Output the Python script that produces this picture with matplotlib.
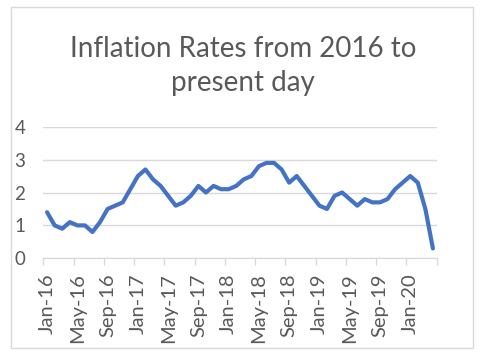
import matplotlib
matplotlib.use("Agg")
import matplotlib.pyplot as plt
from matplotlib.patches import Rectangle

# monthly inflation rate, Jan-16 .. Apr-20
months = ["Jan-16", "May-16", "Sep-16", "Jan-17", "May-17", "Sep-17", "Jan-18",
          "May-18", "Sep-18", "Jan-19", "May-19", "Sep-19", "Jan-20"]
rates = [1.4, 1.0, 0.9, 1.1, 1.0, 1.0, 0.8, 1.1, 1.5, 1.6, 1.7, 2.1,
         2.5, 2.7, 2.4, 2.2, 1.9, 1.6, 1.7, 1.9, 2.2, 2.0, 2.2, 2.1,
         2.1, 2.2, 2.4, 2.5, 2.8, 2.9, 2.9, 2.7, 2.3, 2.5, 2.2, 1.9,
         1.6, 1.5, 1.9, 2.0, 1.8, 1.6, 1.8, 1.7, 1.7, 1.8, 2.1, 2.3,
         2.5, 2.3, 1.5, 0.3]
yticks = [0, 1, 2, 3, 4]

plt.rcParams['font.family'] = ['Lato', 'DejaVu Sans']
txt = "#595959"
grid = "#D9D9D9"

fig = plt.figure(figsize=(4.84, 3.54), dpi=100)
ax = fig.add_axes([43.3 / 484, 1 - 258.3 / 354, (436.7 - 43.3) / 484, (258.3 - 126.7) / 354])

# chart border
fig.patches.append(Rectangle((11 / 484, 1 - 347.5 / 354), 462 / 484, 341 / 354,
                             transform=fig.transFigure, fill=False, edgecolor=grid, lw=1))

# points sit in the middle of each category
xs = [i + 0.5 for i in range(len(rates))]
ax.plot(xs, rates, color="#4472C4", lw=3, solid_capstyle="round", solid_joinstyle="round", zorder=3)

ax.set_xlim(0, len(rates))
ax.set_ylim(0, 4)
ax.set_yticks(yticks)
ax.set_yticklabels([str(v) for v in yticks])
ax.yaxis.grid(True, color=grid, lw=1)
ax.set_axisbelow(True)
ax.tick_params(axis="y", length=0, pad=13, labelsize=13.5, labelcolor=txt)

# tick marks on category boundaries, labels under first month of each group
ax.set_xticks(range(0, len(rates) + 1, 4))
ax.set_xticklabels([])
ax.tick_params(axis="x", which="major", length=5, color=grid, width=1)
ax.set_xticks([i * 4 + 0.5 for i in range(len(months))], minor=True)
ax.set_xticklabels(months, minor=True, rotation=90)
ax.tick_params(axis="x", which="minor", length=0, pad=11, labelsize=14.5, labelcolor=txt)

for s in ["top", "right", "left"]:
    ax.spines[s].set_visible(False)
ax.spines["bottom"].set_color(grid)

fig.text(0.502, 1 - 56.7 / 354, "Inflation Rates from 2016 to", ha="center", va="baseline",
         fontsize=20, color=txt)
fig.text(0.502, 1 - 91 / 354, "present day", ha="center", va="baseline",
         fontsize=20, color=txt)

fig.savefig("out.png", dpi=100)
